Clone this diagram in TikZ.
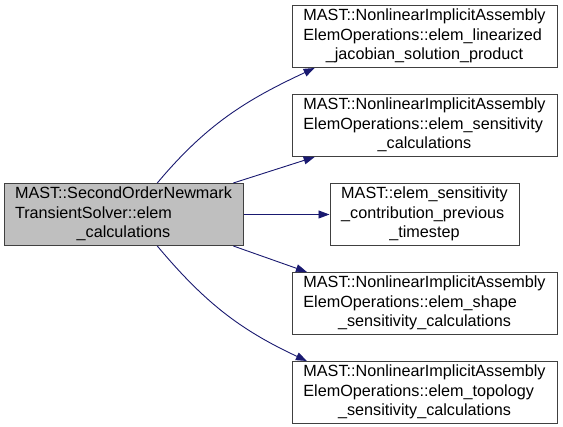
\documentclass[tikz,border=0pt]{standalone}
\usepackage{fontspec}
\setmainfont{Liberation Sans}
\usetikzlibrary{arrows.meta,positioning}
\definecolor{edgeblue}{HTML}{191970}
\definecolor{boxline}{HTML}{404040}
\definecolor{mainfill}{HTML}{BFBFBF}
\newcommand{\fnlines}[3]{\begin{tabular}{@{}l@{}}#1\\#2\\\multicolumn{1}{@{}c@{}}{#3}\end{tabular}}
\tikzset{
  fnbox/.style={rectangle, minimum height=62pt, minimum width=265pt, inner sep=0pt,
    draw=boxline, line width=1pt, fill=white, font=\fontsize{16.2}{19.5}\selectfont},
  mainbox/.style={fnbox, minimum width=239pt, fill=mainfill},
  callarrow/.style={-{Triangle[length=11pt,width=8pt]}, color=edgeblue, line width=0.9pt}
}
\begin{document}
\begin{tikzpicture}[x=1pt, y=1pt, node distance=26pt]
\useasboundingbox (0,0) rectangle (563,-427);
\node[fnbox] (linjac) at (424.5,-36.5) {\fnlines{MAST::NonlinearImplicitAssembly}{ElemOperations::elem\_linearized}{\_jacobian\_solution\_product}};
\node[fnbox, below=of linjac] (senscalc) {\fnlines{MAST::NonlinearImplicitAssembly}{ElemOperations::elem\_sensitivity}{\_calculations}};
\node[fnbox, minimum width=189pt, below=of senscalc] (prevstep) {\fnlines{MAST::elem\_sensitivity}{\_contribution\_previous}{\_timestep}};
\node[fnbox, below=of prevstep] (shapesens) {\fnlines{MAST::NonlinearImplicitAssembly}{ElemOperations::elem\_shape}{\_sensitivity\_calculations}};
\node[fnbox, below=of shapesens] (toposens) {\fnlines{MAST::NonlinearImplicitAssembly}{ElemOperations::elem\_topology}{\_sensitivity\_calculations}};
\node[mainbox, left=86pt of prevstep] (elemcalc) {\fnlines{MAST::SecondOrderNewmark}{TransientSolver::elem}{\_calculations}};
\draw[callarrow] (elemcalc.43) to[out=50, in=205] (linjac.196);
\draw[callarrow] (elemcalc.16) -- (senscalc.196);
\draw[callarrow] (elemcalc) -- (prevstep);
\draw[callarrow] (elemcalc.-16) -- (shapesens.165);
\draw[callarrow] (elemcalc.-43) to[out=-50, in=155] (toposens.165);
\end{tikzpicture}
\end{document}
